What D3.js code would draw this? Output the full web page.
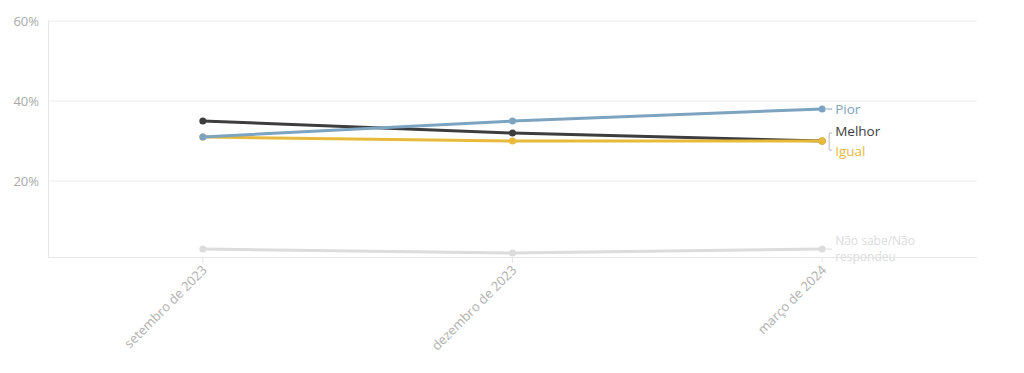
<!DOCTYPE html>
<html><head><meta charset="utf-8">
<script src="https://cdn.jsdelivr.net/npm/d3@7"></script>
<style>body{margin:0;background:#fff;font-family:"Open Sans",sans-serif;}</style>
</head><body><svg id="c" width="1024" height="373"></svg>
<script>
const categories = ["setembro de 2023", "dezembro de 2023", "março de 2024"];
const seriesNames = ["Não sabe/Não respondeu", "Melhor", "Igual", "Pior"];
const pior = [31, 35, 38];
const melhor = [35, 32, 30];
const igual = [31, 30, 30];
const nsnr = [3, 2, 3];
const yTicks = [20, 40, 60];
const colors = {"Pior":"#7ca4c0","Melhor":"#3d3d3d","Igual":"#e8b93b","Não sabe/Não respondeu":"#dcdcdc"};
const seriesData = {"Pior":pior,"Melhor":melhor,"Igual":igual,"Não sabe/Não respondeu":nsnr};

const svg = d3.select("#c");
const x = d3.scalePoint().domain(categories).range([48, 977]).padding(0.5);
const y = d3.scaleLinear().domain([1, 60]).range([257, 21]);

// grid
svg.append("g").selectAll("line").data(yTicks).join("line")
  .attr("x1", 48).attr("x2", 977).attr("y1", d=>y(d)).attr("y2", d=>y(d))
  .attr("stroke", "#ececec").attr("stroke-width", 1);
svg.append("line").attr("x1",48.5).attr("x2",48.5).attr("y1",y(60)).attr("y2",257)
  .attr("stroke","#e6e6e6");
svg.append("line").attr("x1",48).attr("x2",977).attr("y1",257.5).attr("y2",257.5)
  .attr("stroke","#e6e6e6");

// y labels
svg.append("g").selectAll("text").data(yTicks).join("text")
  .attr("x", 39).attr("y", d=>y(d)).attr("dy","0.35em").attr("text-anchor","end")
  .attr("font-size", 13).attr("fill","#aaa").text(d=>d+"%");

// x ticks
const xa = svg.append("g");
xa.selectAll("line").data(categories).join("line")
  .attr("x1", d=>x(d)).attr("x2", d=>x(d)).attr("y1",257).attr("y2",263)
  .attr("stroke","#e6e6e6");
xa.selectAll("text").data(categories).join("text")
  .attr("transform", d=>`translate(${x(d)+5},${271}) rotate(-45)`)
  .attr("text-anchor","end").attr("font-size",13).attr("fill","#b0b0b0").text(d=>d);

// lines
const line = d3.line().x((d,i)=>x(categories[i])).y(d=>y(d));
seriesNames.forEach(name=>{
  const vals = seriesData[name];
  const g = svg.append("g");
  g.append("path").attr("d", line(vals)).attr("fill","none")
    .attr("stroke", colors[name]).attr("stroke-width", 3).attr("stroke-linejoin","round");
  g.selectAll("circle").data(vals).join("circle")
    .attr("cx",(d,i)=>x(categories[i])).attr("cy", d=>y(d)).attr("r",3.5)
    .attr("fill", colors[name]);
});
// igual end dot on top
svg.append("circle").attr("cx",x(categories[2])).attr("cy",y(igual[2])).attr("r",3.5).attr("fill",colors["Igual"]);

// end labels
const lastX = x(categories[2]);
const lab = svg.append("g").attr("font-size",13.5);
// Pior
lab.append("line").attr("x1",lastX+4).attr("x2",lastX+10).attr("y1",y(pior[2])).attr("y2",y(pior[2])).attr("stroke",colors["Pior"]);
lab.append("text").attr("x",lastX+13).attr("y",y(pior[2])).attr("dy","0.35em").attr("fill",colors["Pior"]).text("Pior");
// Melhor / Igual bracket
const by = y(melhor[2]);
lab.append("path").attr("d",`M${lastX+10},${by-8}H${lastX+7}V${by+9}H${lastX+10}`).attr("fill","none").attr("stroke","#bbb");
lab.append("text").attr("x",lastX+13).attr("y",by-10).attr("dy","0.35em").attr("fill",colors["Melhor"]).text("Melhor");
lab.append("text").attr("x",lastX+13).attr("y",by+10).attr("dy","0.35em").attr("fill",colors["Igual"]).text("Igual");
// NS/NR
const ny = y(nsnr[2]);
lab.append("line").attr("x1",lastX+4).attr("x2",lastX+10).attr("y1",ny).attr("y2",ny).attr("stroke",colors["Não sabe/Não respondeu"]);
const nt = lab.append("text").attr("fill",colors["Não sabe/Não respondeu"]).attr("font-size",12);
nt.append("tspan").attr("x",lastX+13).attr("y",ny-8).attr("dy","0.35em").text("Não sabe/Não");
nt.append("tspan").attr("x",lastX+13).attr("y",ny+8).attr("dy","0.35em").text("respondeu");
</script></body></html>
